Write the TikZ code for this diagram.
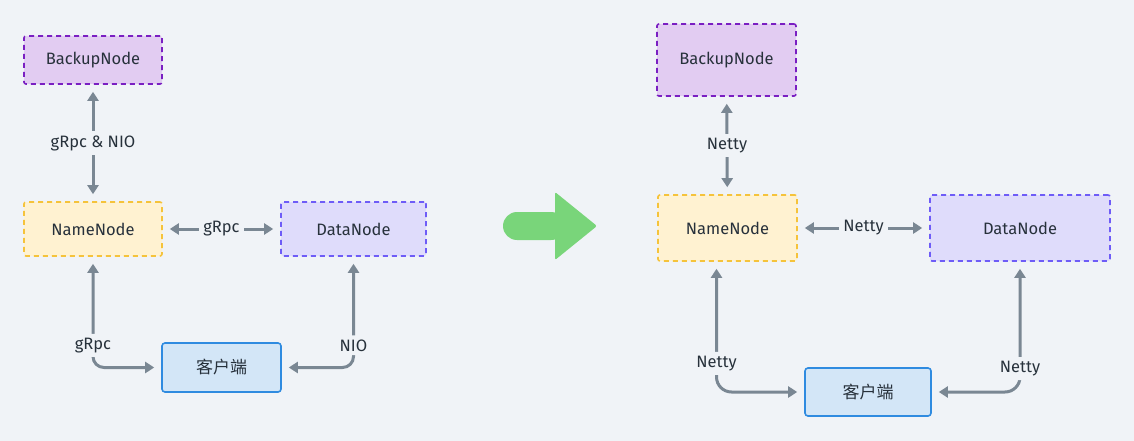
\documentclass[tikz,border=0pt]{standalone}
\usepackage{fontspec}
\setmainfont{Fira Sans}
\newfontfamily\cjk{Noto Sans CJK SC}
\usepackage{tikz}
\usetikzlibrary{arrows.meta}

\definecolor{bg}{HTML}{F0F3F7}
\definecolor{txt}{HTML}{27313B}
\definecolor{edgegray}{HTML}{7A8793}
\definecolor{backupfill}{HTML}{E2CCF2}
\definecolor{backupdraw}{HTML}{7A1FC2}
\definecolor{namefill}{HTML}{FFF2D1}
\definecolor{namedraw}{HTML}{F5C33B}
\definecolor{datafill}{HTML}{DFDCFB}
\definecolor{datadraw}{HTML}{6E5CF7}
\definecolor{clientfill}{HTML}{D3E6F7}
\definecolor{clientdraw}{HTML}{2F8BE0}
\definecolor{bigarrow}{HTML}{79D57A}

\begin{document}
\begin{tikzpicture}[x=1pt, y=-1pt,
		box_style/.style={rectangle,rounded corners=2pt,line width=1.6pt,text=txt,
			font=\fontsize{16.5}{19}\selectfont,dash pattern=on 5pt off 4pt},
		backup_style/.style={box_style,draw=backupdraw,fill=backupfill},
		name_style/.style={box_style,draw=namedraw,fill=namefill},
		data_style/.style={box_style,draw=datadraw,fill=datafill},
		client_style/.style={rectangle,rounded corners=3pt,line width=1.6pt,text=txt,
			draw=clientdraw,fill=clientfill,font=\cjk\fontsize{17}{19}\selectfont},
		edge_style/.style={draw=edgegray,line width=3pt,
			{Triangle[length=9pt,width=11pt]}-{Triangle[length=9pt,width=11pt]},
			shorten >=7pt, shorten <=7pt},
		label_style/.style={fill=bg,text=txt,inner sep=4pt,font=\fontsize{16.5}{19}\selectfont}]

		\useasboundingbox[fill=bg] (0,0) rectangle (1134,441);

		% before
		\node[backup_style, minimum width=138pt, minimum height=48pt] (bn1) at (93,60) {BackupNode};
		\node[name_style, minimum width=138pt, minimum height=54pt] (nn1) at (93,229) {NameNode};
		\node[data_style, minimum width=145pt, minimum height=54pt] (dn1) at (353.5,229) {DataNode};
		\node[client_style, minimum width=119pt, minimum height=49pt] (cl1) at (221.5,367.5) {客户端};

		\draw[edge_style] (bn1) -- node[label_style]{gRpc \& NIO} (nn1);
		\draw[edge_style] (nn1) -- node[label_style]{gRpc} (dn1);
		\draw[edge_style, rounded corners=11pt] (nn1.south) |- node[pos=0.4,label_style]{gRpc} (cl1.west);
		\draw[edge_style, rounded corners=11pt] (dn1.south) |- node[pos=0.4,label_style]{NIO} (cl1.east);

		% big arrow
		\fill[bigarrow, rounded corners=14pt] (503,212) rectangle (565,240);
		\fill[bigarrow, rounded corners=2pt] (555,192) -- (597,226) -- (555,260) -- cycle;

		% after
		\node[backup_style, minimum width=139pt, minimum height=72pt] (bn2) at (726.5,60) {BackupNode};
		\node[name_style, minimum width=139pt, minimum height=66pt] (nn2) at (727.5,228) {NameNode};
		\node[data_style, minimum width=180pt, minimum height=66pt] (dn2) at (1020,228) {DataNode};
		\node[client_style, minimum width=126pt, minimum height=48pt] (cl2) at (868,392) {客户端};

		\draw[edge_style] (bn2) -- node[label_style]{Netty} (nn2);
		\draw[edge_style] (nn2) -- node[label_style]{Netty} (dn2);
		\draw[edge_style, rounded corners=15pt] ([xshift=-11pt]nn2.south) |- node[pos=0.39,label_style]{Netty} (cl2.west);
		\draw[edge_style, rounded corners=15pt] (dn2.south) |- node[pos=0.41,label_style]{Netty} (cl2.east);

\end{tikzpicture}
\end{document}
